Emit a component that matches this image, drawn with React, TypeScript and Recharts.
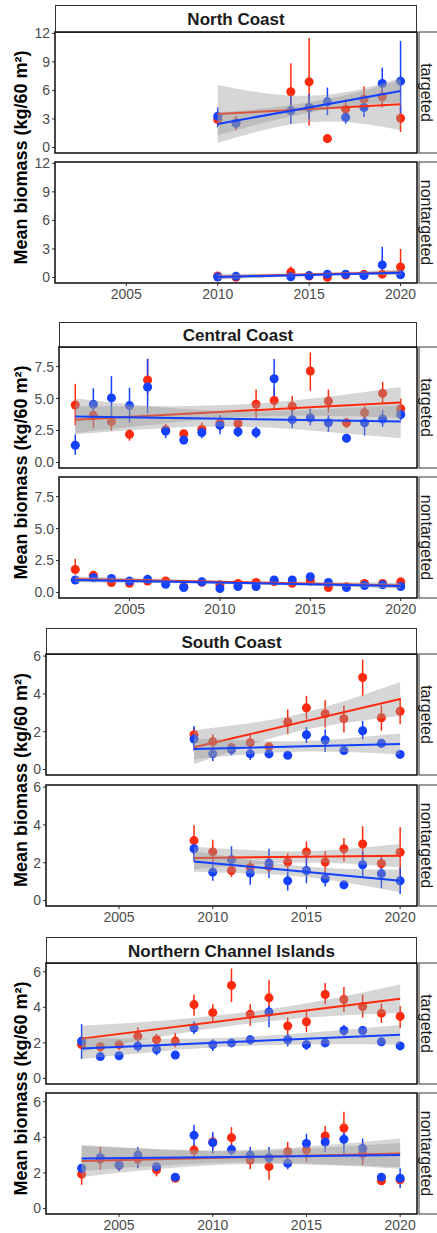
import React from 'react';
import { ComposedChart, XAxis, YAxis, Scatter, ErrorBar, Area, Line } from 'recharts';

const RED = '#FF2A0E';
const BLUE = '#1440FF';
const FONT = '"Liberation Sans", Arial, Helvetica, sans-serif';
const PLOT_RIGHT = 417;
const PANEL_H = 121;
const PAD = 10;
const YEAR_DOMAIN: [number, number] = [2001.1, 2020.9];
const YEAR_TICKS = [2005, 2010, 2015, 2020];

// ---------- North Coast ----------
const ncYears = [2010, 2011, 2014, 2015, 2016, 2017, 2018, 2019, 2020];
const ncBandYears = [2010, 2012.5, 2015, 2017.5, 2020];
const ncTRed = [2.93, 2.6, 5.86, 6.9, 0.93, 4.03, 5.07, 5.34, 3.07];
const ncTRedLo = [2.4, 1.8, 4.3, 2.3, 0.7, 3.2, 4.0, 4.2, 1.62];
const ncTRedHi = [3.5, 3.3, 8.86, 11.5, 1.2, 5.1, 6.4, 6.2, 4.4];
const ncTBlue = [3.28, 2.55, 3.86, 4.2, 4.8, 3.17, 4.2, 6.72, 6.97];
const ncTBlueLo = [2.14, 2.0, 2.5, 3.0, 3.4, 2.5, 3.2, 5.1, 3.6];
const ncTBlueHi = [4.2, 3.0, 5.4, 5.6, 6.3, 3.7, 5.4, 8.4, 11.2];
const ncTRedFit = [3.52, 4.55];
const ncTBlueFit = [2.48, 5.93];
const ncTRedBandLo = [0.47, 1.83, 2.64, 2.59, 1.8];
const ncTRedBandHi = [6.57, 5.73, 5.44, 5.99, 7.3];
const ncTBlueBandLo = [1.28, 2.59, 3.66, 4.42, 4.73];
const ncTBlueBandHi = [3.68, 4.09, 4.76, 5.72, 7.13];

const ncNRed = [0.15, 0.02, 0.55, 0.15, 0.03, 0.25, 0.35, 0.35, 1.1];
const ncNRedLo = [0.05, 0.0, 0.25, 0.05, 0.0, 0.15, 0.2, 0.2, 0.5];
const ncNRedHi = [0.3, 0.1, 1.15, 0.3, 0.1, 0.4, 0.5, 0.6, 3.0];
const ncNBlue = [0.05, 0.12, 0.07, 0.2, 0.35, 0.35, 0.2, 1.32, 0.28];
const ncNBlueLo = [0.0, 0.05, 0.0, 0.1, 0.2, 0.2, 0.1, 0.7, 0.15];
const ncNBlueHi = [0.15, 0.2, 0.15, 0.3, 0.5, 0.5, 0.3, 3.23, 0.45];
const ncNRedFit = [0.08, 0.55];
const ncNBlueFit = [0.05, 0.5];
const ncNRedBandLo = [-0.22, 0.0, 0.16, 0.25, 0.27];
const ncNRedBandHi = [0.38, 0.4, 0.46, 0.61, 0.83];
const ncNBlueBandLo = [-0.17, 0.01, 0.18, 0.26, 0.3];
const ncNBlueBandHi = [0.27, 0.31, 0.38, 0.52, 0.7];

// ---------- Central Coast ----------
const ccYears = [2002, 2003, 2004, 2005, 2006, 2007, 2008, 2009, 2010, 2011, 2012, 2013, 2014, 2015, 2016, 2017, 2018, 2019, 2020];
const ccBandYears = [2002, 2006.5, 2011, 2015.5, 2020];
const ccTRed = [4.5, 3.7, 3.2, 2.2, 6.45, 2.55, 2.25, 2.6, 3.05, 3.05, 4.55, 4.85, 4.4, 7.15, 4.8, 3.1, 3.9, 5.4, 4.2];
const ccTRedLo = [2.9, 2.7, 2.5, 1.7, 5.3, 2.1, 2.0, 2.2, 2.5, 2.6, 3.5, 4.1, 3.7, 5.6, 3.9, 2.7, 3.3, 4.6, 3.4];
const ccTRedHi = [6.15, 4.6, 3.9, 2.6, 8.1, 3.0, 2.5, 3.1, 3.7, 3.5, 5.7, 5.8, 5.2, 8.6, 5.7, 3.5, 4.4, 6.3, 5.0];
const ccTBlue = [1.35, 4.55, 5.05, 4.45, 5.9, 2.45, 1.75, 2.35, 2.9, 2.4, 2.35, 6.55, 3.35, 3.5, 3.1, 1.9, 3.1, 3.4, 3.75];
const ccTBlueLo = [0.6, 3.6, 3.4, 3.1, 3.8, 1.9, 1.5, 1.9, 2.2, 2.0, 1.9, 4.9, 2.7, 2.9, 2.4, 1.6, 2.1, 2.8, 3.3];
const ccTBlueHi = [2.2, 5.8, 6.75, 5.85, 8.1, 2.9, 2.0, 2.8, 3.7, 2.8, 2.8, 8.1, 4.1, 4.2, 3.7, 2.2, 3.9, 4.1, 4.2];
const ccTRedFit = [3.35, 4.7];
const ccTBlueFit = [3.6, 3.2];
const ccTRedBandLo = [2.3, 2.99, 3.53, 3.66, 3.5];
const ccTRedBandHi = [4.4, 4.39, 4.53, 5.06, 5.9];
const ccTBlueBandLo = [2.2, 2.65, 2.8, 2.45, 1.9];
const ccTBlueBandHi = [5.0, 4.35, 4.0, 4.15, 4.5];

const ccNRed = [1.8, 1.34, 0.78, 0.72, 0.9, 0.9, 0.45, 0.8, 0.6, 0.7, 0.78, 0.85, 0.72, 0.9, 0.39, 0.45, 0.7, 0.7, 0.83];
const ccNRedLo = [1.4, 1.1, 0.6, 0.55, 0.7, 0.7, 0.3, 0.6, 0.45, 0.55, 0.6, 0.65, 0.55, 0.7, 0.25, 0.3, 0.5, 0.55, 0.65];
const ccNRedHi = [2.63, 1.7, 1.0, 0.9, 1.1, 1.1, 0.6, 1.0, 0.75, 0.85, 0.95, 1.05, 0.9, 1.1, 0.55, 0.6, 0.9, 0.85, 1.0];
const ccNBlue = [0.98, 1.16, 1.1, 0.9, 1.03, 0.65, 0.39, 0.83, 0.31, 0.47, 0.47, 0.98, 0.98, 1.24, 0.78, 0.39, 0.55, 0.6, 0.47];
const ccNBlueLo = [0.85, 1.0, 0.95, 0.75, 0.9, 0.5, 0.3, 0.7, 0.2, 0.35, 0.35, 0.85, 0.85, 1.05, 0.65, 0.3, 0.45, 0.5, 0.35];
const ccNBlueHi = [1.1, 1.35, 1.25, 1.05, 1.15, 0.8, 0.5, 0.95, 0.42, 0.6, 0.6, 1.1, 1.1, 1.4, 0.9, 0.5, 0.65, 0.7, 0.6];
const ccNRedFit = [1.05, 0.55];
const ccNBlueFit = [0.98, 0.5];
const ccNRedBandLo = [0.83, 0.79, 0.7, 0.54, 0.33];
const ccNRedBandHi = [1.27, 1.07, 0.9, 0.82, 0.77];
const ccNBlueBandLo = [0.8, 0.74, 0.65, 0.5, 0.32];
const ccNBlueBandHi = [1.16, 0.98, 0.83, 0.74, 0.68];

// ---------- South Coast ----------
const scYears = [2009, 2010, 2011, 2012, 2013, 2014, 2015, 2016, 2017, 2018, 2019, 2020];
const scBandYears = [2009, 2011.75, 2014.5, 2017.25, 2020];
const scTRed = [1.84, 1.47, 1.15, 1.42, 1.21, 2.51, 3.26, 2.95, 2.69, 4.87, 2.74, 3.08];
const scTRedLo = [1.5, 1.1, 0.85, 1.1, 1.0, 1.87, 2.65, 2.22, 1.96, 3.87, 2.05, 2.39];
const scTRedHi = [2.2, 1.85, 1.4, 1.85, 1.4, 3.17, 3.9, 3.66, 3.38, 5.82, 3.4, 3.78];
const scTBlue = [1.61, 0.83, 1.05, 0.83, 0.83, 0.75, 1.84, 1.56, 1.0, 2.05, 1.39, 0.8];
const scTBlueLo = [1.0, 0.45, 0.75, 0.5, 0.6, 0.6, 1.4, 0.92, 0.8, 1.6, 1.15, 0.65];
const scTBlueHi = [2.3, 1.1, 1.35, 1.15, 1.05, 0.9, 2.25, 2.13, 1.2, 2.57, 1.6, 0.95];
const scTRedFit = [1.18, 3.73];
const scTBlueFit = [1.09, 1.35];
const scTRedBandLo = [0.28, 1.22, 2.01, 2.49, 2.83];
const scTRedBandHi = [2.08, 2.42, 2.91, 3.69, 4.63];
const scTBlueBandLo = [0.54, 0.79, 0.94, 0.92, 0.8];
const scTBlueBandHi = [1.64, 1.53, 1.5, 1.66, 1.9];

const scNRed = [3.17, 2.57, 1.59, 1.75, 1.8, 2.04, 2.57, 2.04, 2.74, 2.99, 1.96, 2.55];
const scNRedLo = [2.42, 1.9, 1.25, 1.4, 1.5, 1.6, 2.0, 1.45, 2.07, 2.07, 1.54, 1.19];
const scNRedHi = [3.98, 3.22, 1.9, 2.1, 2.1, 2.5, 3.13, 2.6, 3.31, 3.93, 2.34, 3.88];
const scNBlue = [2.74, 1.5, 2.16, 1.45, 1.98, 1.04, 1.59, 1.15, 0.83, 1.89, 1.42, 1.04];
const scNBlueLo = [2.07, 1.04, 1.36, 0.83, 1.19, 0.53, 0.92, 0.74, 0.7, 1.27, 0.65, 0.34];
const scNBlueHi = [2.9, 1.98, 2.87, 1.98, 2.74, 1.54, 2.34, 1.5, 1.0, 2.6, 2.25, 1.72];
const scNRedFit = [2.25, 2.37];
const scNBlueFit = [2.07, 1.04];
const scNRedBandLo = [1.65, 1.88, 2.01, 1.94, 1.75];
const scNRedBandHi = [2.85, 2.68, 2.61, 2.74, 2.99];
const scNBlueBandLo = [1.52, 1.44, 1.28, 0.93, 0.44];
const scNBlueBandHi = [2.62, 2.18, 1.84, 1.67, 1.64];

// ---------- Northern Channel Islands ----------
const ciYears = [2003, 2004, 2005, 2006, 2007, 2008, 2009, 2010, 2011, 2012, 2013, 2014, 2015, 2016, 2017, 2018, 2019, 2020];
const ciBandYears = [2003, 2007.25, 2011.5, 2015.75, 2020];
const ciTRed = [1.9, 1.78, 1.9, 2.38, 2.18, 2.1, 4.15, 3.7, 5.23, 3.61, 4.53, 2.95, 3.19, 4.72, 4.44, 4.04, 3.67, 3.49];
const ciTRedLo = [1.7, 1.5, 1.6, 1.87, 1.9, 1.75, 3.52, 3.16, 4.29, 2.97, 3.52, 2.42, 2.6, 4.17, 3.74, 3.43, 3.12, 2.83];
const ciTRedHi = [2.1, 2.05, 2.1, 2.88, 2.5, 2.57, 4.72, 4.17, 6.18, 4.17, 5.54, 3.43, 3.8, 5.36, 5.14, 4.72, 4.22, 4.07];
const ciTBlue = [2.09, 1.23, 1.28, 1.82, 1.63, 1.32, 2.84, 1.9, 2.0, 2.18, 3.74, 2.18, 1.9, 2.0, 2.7, 2.7, 2.06, 1.83];
const ciTBlueLo = [1.1, 1.05, 1.1, 1.5, 1.3, 1.15, 2.5, 1.55, 1.8, 1.9, 2.88, 1.8, 1.6, 1.8, 2.4, 2.45, 1.9, 1.6];
const ciTBlueHi = [3.06, 1.4, 1.45, 2.1, 1.9, 1.5, 3.2, 2.2, 2.2, 2.4, 4.07, 2.5, 2.2, 2.2, 3.0, 2.95, 2.25, 2.05];
const ciTRedFit = [2.24, 4.48];
const ciTBlueFit = [1.69, 2.46];
const ciTRedBandLo = [1.52, 2.35, 3.03, 3.47, 3.68];
const ciTRedBandHi = [2.96, 3.25, 3.69, 4.37, 5.28];
const ciTBlueBandLo = [1.09, 1.53, 1.82, 1.92, 1.91];
const ciTBlueBandHi = [2.29, 2.23, 2.32, 2.62, 3.01];

const ciNRed = [1.93, 2.78, 2.44, 2.78, 2.17, 1.7, 3.28, 3.74, 3.98, 2.72, 2.35, 3.19, 3.28, 4.07, 4.52, 3.09, 1.56, 1.61];
const ciNRedLo = [1.33, 2.17, 2.1, 2.3, 1.8, 1.5, 2.9, 3.3, 3.37, 2.2, 1.61, 2.63, 2.63, 3.55, 3.65, 2.44, 1.35, 1.4];
const ciNRedHi = [2.44, 3.46, 2.7, 3.2, 2.4, 1.9, 3.6, 4.1, 4.57, 3.28, 3.0, 3.74, 3.93, 4.63, 5.44, 3.74, 1.75, 1.85];
const ciNBlue = [2.26, 2.85, 2.44, 3.0, 2.35, 1.76, 4.11, 3.7, 3.31, 3.0, 2.85, 2.54, 3.65, 3.74, 3.89, 3.37, 1.76, 1.7];
const ciNBlueLo = [2.0, 2.5, 2.1, 2.26, 2.0, 1.55, 3.46, 3.09, 3.0, 2.6, 2.4, 2.2, 3.0, 3.19, 3.09, 2.72, 1.55, 1.15];
const ciNBlueHi = [2.5, 3.2, 2.7, 3.46, 2.6, 1.95, 4.7, 4.3, 3.6, 3.46, 3.46, 2.8, 4.2, 4.3, 4.48, 3.93, 1.95, 2.26];
const ciNRedFit = [2.67, 3.09];
const ciNBlueFit = [2.81, 3.0];
const ciNRedBandLo = [1.77, 2.23, 2.48, 2.44, 2.24];
const ciNRedBandHi = [3.57, 3.33, 3.28, 3.54, 3.94];
const ciNBlueBandLo = [2.11, 2.41, 2.58, 2.5, 2.32];
const ciNBlueBandHi = [3.51, 3.31, 3.22, 3.4, 3.68];

// ---------- builders ----------
type Built = { points: any[]; fit: any[]; band: any[] };
function build(years: number[], mean: number[], lo: number[], hi: number[], fit: number[], bandYears: number[], bandLo: number[], bandHi: number[]): Built {
  return {
    points: years.map((yr, i) => ({ year: yr, y: mean[i], err: [mean[i] - lo[i], hi[i] - mean[i]] })),
    fit: [
      { year: years[0], y: fit[0] },
      { year: years[years.length - 1], y: fit[1] },
    ],
    band: bandYears.map((yr, i) => ({ year: yr, y: [bandLo[i], bandHi[i]] })),
  };
}

const intFmt = (v: number) => String(v);
const oneFmt = (v: number) => v.toFixed(1);

const REGIONS = [
  {
    title: 'North Coast', left: 55, titleTop: 5, tTop: 32, nTop: 162,
    domain: [-0.58, 12.14], ticks: [0, 3, 6, 9, 12], fmt: intFmt,
    t: {
      red: build(ncYears, ncTRed, ncTRedLo, ncTRedHi, ncTRedFit, ncBandYears, ncTRedBandLo, ncTRedBandHi),
      blue: build(ncYears, ncTBlue, ncTBlueLo, ncTBlueHi, ncTBlueFit, ncBandYears, ncTBlueBandLo, ncTBlueBandHi),
    },
    n: {
      red: build(ncYears, ncNRed, ncNRedLo, ncNRedHi, ncNRedFit, ncBandYears, ncNRedBandLo, ncNRedBandHi),
      blue: build(ncYears, ncNBlue, ncNBlueLo, ncNBlueHi, ncNBlueFit, ncBandYears, ncNBlueBandLo, ncNBlueBandHi),
    },
  },
  {
    title: 'Central Coast', left: 59, titleTop: 322, tTop: 347, nTop: 477,
    domain: [-0.43, 9.03], ticks: [0, 2.5, 5, 7.5], fmt: oneFmt,
    t: {
      red: build(ccYears, ccTRed, ccTRedLo, ccTRedHi, ccTRedFit, ccBandYears, ccTRedBandLo, ccTRedBandHi),
      blue: build(ccYears, ccTBlue, ccTBlueLo, ccTBlueHi, ccTBlueFit, ccBandYears, ccTBlueBandLo, ccTBlueBandHi),
    },
    n: {
      red: build(ccYears, ccNRed, ccNRedLo, ccNRedHi, ccNRedFit, ccBandYears, ccNRedBandLo, ccNRedBandHi),
      blue: build(ccYears, ccNBlue, ccNBlueLo, ccNBlueHi, ccNBlueFit, ccBandYears, ccNBlueBandLo, ccNBlueBandHi),
    },
  },
  {
    title: 'South Coast', left: 46, titleTop: 628, tTop: 654, nTop: 785,
    domain: [-0.29, 6.11], ticks: [0, 2, 4, 6], fmt: intFmt,
    t: {
      red: build(scYears, scTRed, scTRedLo, scTRedHi, scTRedFit, scBandYears, scTRedBandLo, scTRedBandHi),
      blue: build(scYears, scTBlue, scTBlueLo, scTBlueHi, scTBlueFit, scBandYears, scTBlueBandLo, scTBlueBandHi),
    },
    n: {
      red: build(scYears, scNRed, scNRedLo, scNRedHi, scNRedFit, scBandYears, scNRedBandLo, scNRedBandHi),
      blue: build(scYears, scNBlue, scNBlueLo, scNBlueHi, scNBlueFit, scBandYears, scNBlueBandLo, scNBlueBandHi),
    },
  },
  {
    title: 'Northern Channel Islands', left: 46, titleTop: 937, tTop: 963, nTop: 1093,
    domain: [-0.31, 6.49], ticks: [0, 2, 4, 6], fmt: intFmt,
    t: {
      red: build(ciYears, ciTRed, ciTRedLo, ciTRedHi, ciTRedFit, ciBandYears, ciTRedBandLo, ciTRedBandHi),
      blue: build(ciYears, ciTBlue, ciTBlueLo, ciTBlueHi, ciTBlueFit, ciBandYears, ciTBlueBandLo, ciTBlueBandHi),
    },
    n: {
      red: build(ciYears, ciNRed, ciNRedLo, ciNRedHi, ciNRedFit, ciBandYears, ciNRedBandLo, ciNRedBandHi),
      blue: build(ciYears, ciNBlue, ciNBlueLo, ciNBlueHi, ciNBlueFit, ciBandYears, ciNBlueBandLo, ciNBlueBandHi),
    },
  },
];

const tickStyle = { fill: '#4d4d4d', fontSize: 14, fontFamily: FONT };

function Panel(props: { top: number; left: number; domain: number[]; ticks: number[]; fmt: (v: number) => string; showX: boolean; red: Built; blue: Built }) {
  const { top, left, domain, ticks, fmt, showX, red, blue } = props;
  const bottomPad = showX ? 0 : PAD;
  const h = PAD + PANEL_H + (showX ? 26 : bottomPad);
  return (
    <div style={{ position: 'absolute', left: 0, top: top - PAD, width: 437, height: h }}>
      <ComposedChart width={437} height={h} margin={{ top: PAD, right: 437 - PLOT_RIGHT, bottom: bottomPad, left: 0 }}>
        <XAxis
          type="number" dataKey="year" domain={YEAR_DOMAIN} ticks={YEAR_TICKS} allowDataOverflow
          hide={!showX} height={26} axisLine={false} tickLine={{ stroke: '#333' }} tickSize={3} tickMargin={3}
          tick={tickStyle} interval={0}
        />
        <YAxis
          type="number" domain={domain as [number, number]} ticks={ticks} allowDataOverflow width={left}
          axisLine={false} tickLine={{ stroke: '#333' }} tickSize={3} tickMargin={2} tick={tickStyle}
          tickFormatter={fmt} interval={0}
        />
        <Scatter data={red.points} dataKey="y" fill={RED} isAnimationActive={false} zIndex={600}>
          <ErrorBar dataKey="err" direction="y" width={0} stroke={RED} strokeWidth={1.5} isAnimationActive={false} />
        </Scatter>
        <Scatter data={blue.points} dataKey="y" fill={BLUE} isAnimationActive={false} zIndex={610}>
          <ErrorBar dataKey="err" direction="y" width={0} stroke={BLUE} strokeWidth={1.5} isAnimationActive={false} />
        </Scatter>
        <Area data={red.band} dataKey="y" type="natural" fill="#999999" fillOpacity={0.4} stroke="none"
          dot={false} activeDot={false} isAnimationActive={false} zIndex={700} />
        <Line data={red.fit} dataKey="y" type="linear" stroke={RED} strokeWidth={2} dot={false} activeDot={false}
          isAnimationActive={false} zIndex={710} />
        <Area data={blue.band} dataKey="y" type="natural" fill="#999999" fillOpacity={0.4} stroke="none"
          dot={false} activeDot={false} isAnimationActive={false} zIndex={720} />
        <Line data={blue.fit} dataKey="y" type="linear" stroke={BLUE} strokeWidth={2} dot={false} activeDot={false}
          isAnimationActive={false} zIndex={730} />
      </ComposedChart>
    </div>
  );
}

export default function App() {
  return (
    <div style={{ position: 'absolute', left: 0, top: 0, width: 437, height: 1233, background: '#fff', overflow: 'hidden', fontFamily: FONT }}>
      {REGIONS.map((r) => (
        <React.Fragment key={r.title}>
          <Panel top={r.tTop} left={r.left} domain={r.domain} ticks={r.ticks} fmt={r.fmt} showX={false} red={r.t.red} blue={r.t.blue} />
          <Panel top={r.nTop} left={r.left} domain={r.domain} ticks={r.ticks} fmt={r.fmt} showX={true} red={r.n.red} blue={r.n.blue} />
        </React.Fragment>
      ))}
      <svg width={437} height={1233} style={{ position: 'absolute', left: 0, top: 0, pointerEvents: 'none' }}>
        {REGIONS.map((r) => {
          const w = PLOT_RIGHT - r.left;
          const yMid = (r.tTop + r.nTop + PANEL_H) / 2;
          return (
            <g key={r.title}>
              <rect x={r.left + 0.5} y={r.titleTop + 0.5} width={w - 1} height={r.tTop - r.titleTop} fill="#fff" stroke="#333" strokeWidth={1} />
              <text x={r.left + w / 2} y={(r.titleTop + r.tTop) / 2 + 1} textAnchor="middle" dominantBaseline="central"
                fontSize={17} fontWeight="bold" fill="#1a1a1a" fontFamily={FONT}>{r.title}</text>
              {[{ y: r.tTop, label: 'targeted' }, { y: r.nTop, label: 'nontargeted' }].map((p) => (
                <g key={p.label}>
                  <rect x={r.left} y={p.y} width={w} height={PANEL_H} fill="none" stroke="#1a1a1a" strokeWidth={1.6} />
                  <rect x={PLOT_RIGHT + 2} y={p.y} width={30} height={PANEL_H} fill="#fff" stroke="#333" strokeWidth={1} />
                  <text x={421} y={p.y + PANEL_H / 2} textAnchor="middle" fontSize={16} fill="#1a1a1a" fontFamily={FONT}
                    transform={`rotate(90, 421, ${p.y + PANEL_H / 2})`}>{p.label}</text>
                </g>
              ))}
              <text x={27} y={yMid} textAnchor="middle" fontSize={18} fontWeight="bold" fill="#000" fontFamily={FONT}
                transform={`rotate(-90, 27, ${yMid})`}>Mean biomass (kg/60 m²)</text>
            </g>
          );
        })}
      </svg>
    </div>
  );
}
